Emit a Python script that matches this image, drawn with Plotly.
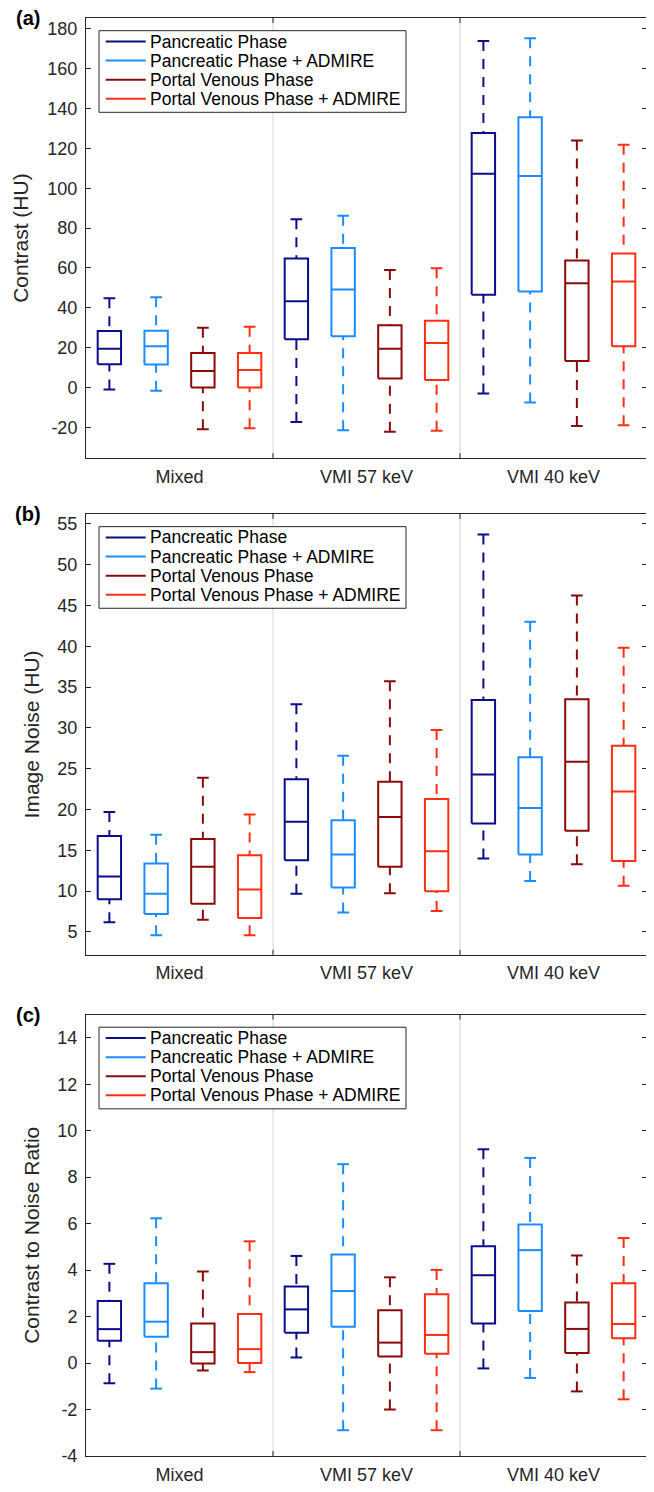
import plotly.graph_objects as go

# ---------------- data ----------------
GROUPS = ["Mixed", "VMI 57 keV", "VMI 40 keV"]
SERIES = ["Pancreatic Phase", "Pancreatic Phase + ADMIRE",
          "Portal Venous Phase", "Portal Venous Phase + ADMIRE"]
COLORS = ["#0c0c8a", "#1a8cff", "#8a0a0a", "#ff2e12"]

# rows = series, columns = groups (Mixed, VMI 57 keV, VMI 40 keV)
contrast_lo = [[-1.0, -17.3, -3.0], [-1.7, -21.5, -7.5], [-21.0, -22.2, -19.3], [-20.5, -21.7, -19.0]]
contrast_q1 = [[11.7, 24.2, 46.5], [11.5, 25.7, 48.2], [0.0, 4.5, 13.3], [0.0, 3.8, 20.7]]
contrast_med = [[19.5, 43.3, 107.3], [20.7, 49.2, 106.2], [8.3, 19.5, 52.3], [8.8, 22.3, 53.2]]
contrast_q3 = [[28.3, 64.8, 127.8], [28.5, 70.0, 135.7], [17.3, 31.2, 63.8], [17.3, 33.5, 67.3]]
contrast_hi = [[44.8, 84.5, 174.0], [45.3, 86.2, 175.3], [30.0, 59.0, 124.0], [30.5, 59.8, 121.8]]

noise_lo = [[6.2, 9.7, 14.0], [4.6, 7.4, 11.25], [6.5, 9.75, 13.3], [4.6, 7.56, 10.65]]
noise_q1 = [[9.0, 13.8, 18.3], [7.2, 10.45, 14.5], [8.45, 13.0, 17.4], [6.7, 10.0, 13.7]]
noise_med = [[11.8, 18.5, 24.3], [9.7, 14.5, 20.2], [13.0, 19.1, 25.85], [10.2, 14.9, 22.2]]
noise_q3 = [[16.75, 23.7, 33.4], [13.4, 18.7, 26.4], [16.4, 23.4, 33.5], [14.4, 21.3, 27.8]]
noise_hi = [[19.7, 32.9, 53.7], [16.9, 26.6, 43.0], [23.9, 35.7, 46.2], [19.4, 29.75, 39.8]]

cnr_lo = [[-0.87, 0.24, -0.23], [-1.1, -2.89, -0.64], [-0.32, -2.0, -1.22], [-0.39, -2.89, -1.56]]
cnr_q1 = [[0.96, 1.3, 1.7], [1.13, 1.56, 2.24], [-0.02, 0.28, 0.43], [0.0, 0.4, 1.07]]
cnr_med = [[1.46, 2.31, 3.78], [1.78, 3.1, 4.86], [0.47, 0.88, 1.47], [0.6, 1.21, 1.68]]
cnr_q3 = [[2.67, 3.3, 5.03], [3.43, 4.67, 5.96], [1.70, 2.27, 2.61], [2.11, 2.96, 3.43]]
cnr_hi = [[4.27, 4.61, 9.2], [6.23, 8.56, 8.83], [3.94, 3.69, 4.63], [5.24, 4.01, 5.38]]

contrast_ticks = [-20, 0, 20, 40, 60, 80, 100, 120, 140, 160, 180]
noise_ticks = [5, 10, 15, 20, 25, 30, 35, 40, 45, 50, 55]
cnr_ticks = [-4, -2, 0, 2, 4, 6, 8, 10, 12, 14]

PANELS = [
    dict(label="(a)", title="Contrast (HU)", stats=(contrast_lo, contrast_q1, contrast_med, contrast_q3, contrast_hi),
         ticks=contrast_ticks, yrange=[-35.5, 185.5], domain=[0.6939, 1.0]),
    dict(label="(b)", title="Image Noise (HU)", stats=(noise_lo, noise_q1, noise_med, noise_q3, noise_hi),
         ticks=noise_ticks, yrange=[2.2, 56.2], domain=[0.3485, 0.6551]),
    dict(label="(c)", title="Contrast to Noise Ratio", stats=(cnr_lo, cnr_q1, cnr_med, cnr_q3, cnr_hi),
         ticks=cnr_ticks, yrange=[-4.0, 15.0], domain=[0.0, 0.3070]),
]

# ---------------- style ----------------
FONT = "Liberation Sans, Arial, Helvetica, sans-serif"
AXC = "#262626"
OFFSETS = [-0.375, -0.125, 0.125, 0.375]
HALF_BOX = 0.0625
HALF_CAP = 0.03125

fig = go.Figure()
# page body has an 8px default margin, so the figure is 8px smaller on each side
layout = dict(
    width=646, height=1484,
    margin=dict(l=78, r=7, t=10, b=30),
    paper_bgcolor="white", plot_bgcolor="white",
    showlegend=False,
    font=dict(family=FONT, color="#1a1a1a"),
)
shapes = []
annotations = []

for p, panel in enumerate(PANELS):
    sfx = "" if p == 0 else str(p + 1)
    xa, ya = "x" + sfx, "y" + sfx
    lo, q1, med, q3, hi = panel["stats"]
    for s in range(len(SERIES)):
        xs, ys, xd, yd = [], [], [], []
        for g in range(len(GROUPS)):
            xc = g + 1 + OFFSETS[s]
            # box
            xs += [xc - HALF_BOX, xc + HALF_BOX, xc + HALF_BOX, xc - HALF_BOX, xc - HALF_BOX, None]
            ys += [q1[s][g], q1[s][g], q3[s][g], q3[s][g], q1[s][g], None]
            # median
            xs += [xc - HALF_BOX, xc + HALF_BOX, None]
            ys += [med[s][g], med[s][g], None]
            # caps
            xs += [xc - HALF_CAP, xc + HALF_CAP, None, xc - HALF_CAP, xc + HALF_CAP, None]
            ys += [hi[s][g], hi[s][g], None, lo[s][g], lo[s][g], None]
            # whiskers
            xd += [xc, xc, None, xc, xc, None]
            yd += [hi[s][g], q3[s][g], None, lo[s][g], q1[s][g], None]
        fig.add_trace(go.Scatter(x=xd, y=yd, mode="lines", xaxis=xa, yaxis=ya,
                                 line=dict(color=COLORS[s], width=2, dash="10px,8px"),
                                 hoverinfo="skip", name=SERIES[s], showlegend=False))
        fig.add_trace(go.Scatter(x=xs, y=ys, mode="lines", xaxis=xa, yaxis=ya,
                                 line=dict(color=COLORS[s], width=2),
                                 name=SERIES[s], showlegend=False))

    layout["xaxis" + sfx] = dict(
        domain=[0, 1], anchor=ya, range=[0.5, len(GROUPS) + 0.5],
        tickvals=list(range(1, len(GROUPS) + 1)), ticktext=GROUPS, ticks="",
        showline=True, linecolor=AXC, linewidth=1, mirror=True,
        showgrid=False, zeroline=False, fixedrange=True,
        tickfont=dict(family=FONT, size=18, color=AXC), ticklabelstandoff=2,
    )
    layout["yaxis" + sfx] = dict(
        domain=panel["domain"], anchor=xa, range=panel["yrange"],
        tickvals=panel["ticks"], ticktext=[str(t) for t in panel["ticks"]],
        ticks="inside", ticklen=5, tickcolor=AXC, tickwidth=1,
        showline=True, linecolor=AXC, linewidth=1, mirror="ticks",
        showgrid=False, zeroline=False, automargin=False,
        tickfont=dict(family=FONT, size=18, color=AXC), ticklabelstandoff=4,
        title=dict(text=panel["title"], font=dict(family=FONT, size=21, color=AXC), standoff=12),
    )

    xdom, ydom = xa + " domain", ya + " domain"
    # group separators and x tick marks (at group boundaries)
    for g in range(1, len(GROUPS)):
        xb = g + 0.5
        shapes.append(dict(type="line", xref=xa, yref=ydom, x0=xb, x1=xb, y0=0, y1=1,
                           line=dict(color="#d4d4d4", width=1), layer="below"))
        shapes.append(dict(type="line", xref=xa, yref=ydom, ysizemode="pixel", yanchor=0,
                           x0=xb, x1=xb, y0=0, y1=5, line=dict(color=AXC, width=1)))
        shapes.append(dict(type="line", xref=xa, yref=ydom, ysizemode="pixel", yanchor=1,
                           x0=xb, x1=xb, y0=0, y1=-5, line=dict(color=AXC, width=1)))

    # legend box (drawn as in the original figure)
    shapes.append(dict(type="rect", xref=xdom, yref=ydom, xsizemode="pixel", ysizemode="pixel",
                       xanchor=0, yanchor=1, x0=13, x1=320, y0=-12.7, y1=-94.3,
                       line=dict(color=AXC, width=1), fillcolor="white"))
    for s, name in enumerate(SERIES):
        yoff = -(23.5 + 19.1 * s)
        shapes.append(dict(type="line", xref=xdom, yref=ydom, xsizemode="pixel", ysizemode="pixel",
                           xanchor=0, yanchor=1, x0=19.7, x1=59.7, y0=yoff, y1=yoff,
                           line=dict(color=COLORS[s], width=2)))
        annotations.append(dict(text=name, xref=xdom, yref=ydom, x=0, y=1, xshift=62, yshift=yoff,
                                xanchor="left", yanchor="middle", showarrow=False,
                                font=dict(family=FONT, size=17.5, color="#000000")))

    # panel label
    annotations.append(dict(text="<b>" + panel["label"] + "</b>", xref=xdom, yref=ydom, x=0, y=1,
                            xshift=-58, yshift=0, xanchor="center", yanchor="middle",
                            showarrow=False, font=dict(family=FONT, size=20, color="#000000")))

layout["shapes"] = shapes
layout["annotations"] = annotations
fig.update_layout(**layout)
fig.write_html("out.html")
